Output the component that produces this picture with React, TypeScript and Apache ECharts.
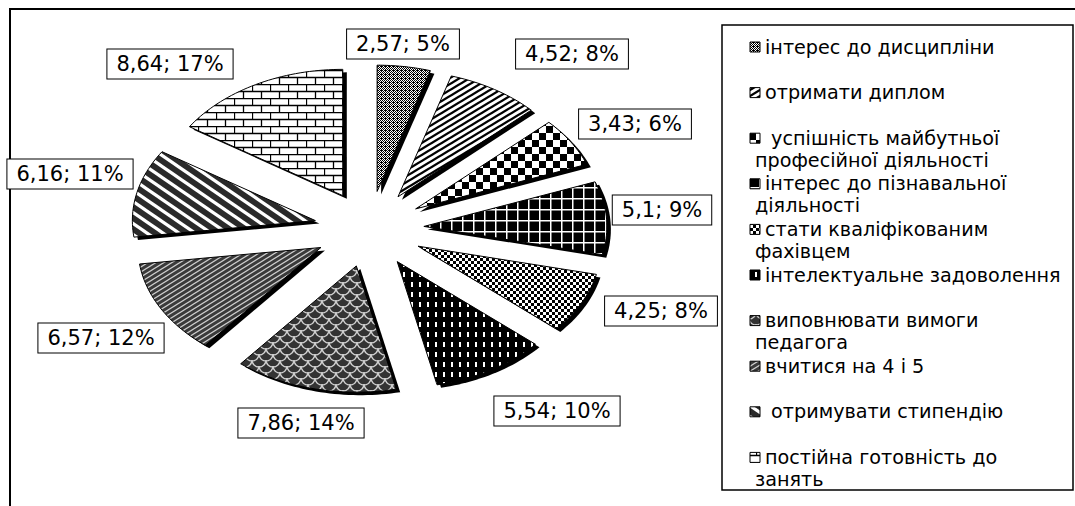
import React, { useEffect, useRef } from 'react';
import * as echarts from 'echarts';

// ---- data ----
const categories = [
  'інтерес до дисципліни',
  'отримати диплом',
  ' успішність майбутньої\nпрофесійної діяльності',
  'інтерес до пізнавальної\nдіяльності',
  'стати кваліфікованим\nфахівцем',
  'інтелектуальне задоволення',
  'виповнювати вимоги\nпедагога',
  'вчитися на 4 і 5',
  ' отримувати стипендію',
  'постійна готовність до\nзанять',
];
const values = [2.57, 4.52, 3.43, 5.1, 4.25, 5.54, 7.86, 6.57, 6.16, 8.64];
const percents = [5, 8, 6, 9, 8, 10, 14, 12, 11, 17];

// ---- layout ----
const CX = 369;
const CY = 229;
const R = 183;
const K = 0.69; // vertical squash of the tilted pie
const D = 55; // explode distance
const SHX = 4;
const SHY = 3;
const LABEL_CENTERS: [number, number][] = [
  [403, 44], [572, 54], [635, 124], [662, 210], [661, 311],
  [557, 411], [301, 423], [101, 338], [70, 174], [170, 64],
];
const LEG = { x: 722, y: 25, w: 351, h: 465, iconX: 750, textX: 765, contX: 755, y0: 47, step: 45.6, lineH: 22 };

function tile(w: number, h: number, draw: (g: CanvasRenderingContext2D) => void) {
  const c = document.createElement('canvas');
  c.width = w;
  c.height = h;
  const g = c.getContext('2d')!;
  draw(g);
  return c;
}

function stripes(W: number, H: number, lw: number, fg: string, bg: string, dir: '/' | '\\') {
  return tile(W, H, (g) => {
    g.fillStyle = bg;
    g.fillRect(0, 0, W, H);
    g.strokeStyle = fg;
    g.lineWidth = lw;
    for (let n = -3; n <= 4; n++) {
      g.beginPath();
      if (dir === '/') {
        g.moveTo(W * (n + 1), -H);
        g.lineTo(W * (n - 2), 2 * H);
      } else {
        g.moveTo(W * (n - 1), -H);
        g.lineTo(W * (n + 2), 2 * H);
      }
      g.stroke();
    }
  });
}

function makePatterns() {
  const p: HTMLCanvasElement[] = [];
  // 1 fine grey stipple
  p.push(tile(4, 4, (g) => {
    g.fillStyle = '#fff';
    g.fillRect(0, 0, 4, 4);
    g.fillStyle = '#000';
    for (let y = 0; y < 4; y++) for (let x = 0; x < 4; x++) if ((x + y) % 2 === 0 || (x === 1 && y === 2)) g.fillRect(x, y, 1, 1);
  }));
  // 2 thin "/" stripes
  p.push(stripes(10, 6, 2.3, '#000', '#fff', '/'));
  // 3 large checker
  p.push(tile(14, 14, (g) => {
    g.fillStyle = '#fff';
    g.fillRect(0, 0, 14, 14);
    g.fillStyle = '#000';
    g.fillRect(0, 0, 7, 7);
    g.fillRect(7, 7, 7, 7);
  }));
  // 4 black with white grid
  p.push(tile(11, 11, (g) => {
    g.fillStyle = '#000';
    g.fillRect(0, 0, 11, 11);
    g.fillStyle = '#fff';
    g.fillRect(0, 0, 11, 1.5);
    g.fillRect(0, 0, 1.5, 11);
  }));
  // 5 small checker
  p.push(tile(6, 6, (g) => {
    g.fillStyle = '#fff';
    g.fillRect(0, 0, 6, 6);
    g.fillStyle = '#000';
    g.fillRect(0, 0, 3, 3);
    g.fillRect(3, 3, 3, 3);
  }));
  // 6 black with white vertical dashes
  p.push(tile(8, 10, (g) => {
    g.fillStyle = '#000';
    g.fillRect(0, 0, 8, 10);
    g.fillStyle = '#fff';
    g.fillRect(3, 2, 2, 5);
  }));
  // 7 dark grey scales
  p.push(tile(14, 12, (g) => {
    g.fillStyle = '#333';
    g.fillRect(0, 0, 14, 12);
    g.strokeStyle = '#cfcfcf';
    g.lineWidth = 1.3;
    const arc = (x: number, y: number) => {
      g.beginPath();
      g.arc(x, y, 7, 0, Math.PI);
      g.stroke();
    };
    arc(7, 0); arc(7, 12); arc(0, 6); arc(14, 6); arc(0, -6); arc(14, -6);
  }));
  // 8 dark grey with light "/" lines
  p.push(stripes(8, 5, 1.2, '#cfcfcf', '#3a3a3a', '/'));
  // 9 wide "\" stripes
  p.push(stripes(16, 11, 3.2, '#fff', '#2a2a2a', '\\'));
  // 10 brick
  p.push(tile(18, 14, (g) => {
    g.fillStyle = '#fff';
    g.fillRect(0, 0, 18, 14);
    g.strokeStyle = '#000';
    g.lineWidth = 1.3;
    g.beginPath();
    g.moveTo(0, 0.5); g.lineTo(18, 0.5);
    g.moveTo(0, 7.5); g.lineTo(18, 7.5);
    g.moveTo(0.5, 0); g.lineTo(0.5, 7.5);
    g.moveTo(9.5, 7.5); g.lineTo(9.5, 14);
    g.stroke();
  }));
  return p.map((c) => ({ image: c, repeat: 'repeat' as const }));
}

const fmt = (v: number) => String(v).replace('.', ',');

export default function App() {
  const ref = useRef<HTMLDivElement>(null);
  useEffect(() => {
    if (!ref.current) return;
    const chart = echarts.init(ref.current, null, { renderer: 'svg' });
    const patterns = makePatterns();
    const total = values.reduce((a, b) => a + b, 0);
    const starts: number[] = [];
    let acc = 0;
    values.forEach((v) => {
      starts.push((acc / total) * 360);
      acc += v;
    });

    const legendEls: any[] = [];
    categories.forEach((name, i) => {
      const y = LEG.y0 + i * LEG.step;
      legendEls.push({
        type: 'rect',
        z: 5,
        shape: { x: LEG.iconX, y: y - 5, width: 10, height: 10 },
        style: { fill: patterns[i], stroke: '#000', lineWidth: 1 },
      });
      name.split('\n').forEach((line, j) => {
        legendEls.push({
          type: 'text',
          z: 5,
          style: {
            text: line,
            x: j === 0 ? LEG.textX : LEG.contX,
            y: y + j * LEG.lineH,
            verticalAlign: 'middle',
            font: '19.2px "DejaVu Sans"',
            fill: '#000',
          },
        });
      });
    });

    chart.setOption({
      animation: false,
      backgroundColor: '#fff',
      graphic: [
        {
          type: 'rect',
          z: 1,
          shape: { x: 10, y: 9, width: 1200, height: 800 },
          style: { fill: 'none', stroke: '#000', lineWidth: 2 },
        },
        {
          type: 'rect',
          z: 1,
          shape: { x: LEG.x, y: LEG.y, width: LEG.w, height: LEG.h },
          style: { fill: 'none', stroke: '#000', lineWidth: 1.5 },
        },
        ...legendEls,
      ],
      series: [
        {
          type: 'custom',
          coordinateSystem: 'none',
          data: values.map((v, i) => ({ name: categories[i], value: [v] })),
          renderItem: (params: any, api: any) => {
            const i = params.dataIndex;
            const v = api.value(0);
            const a0 = starts[i];
            const a1 = a0 + (v / total) * 360;
            const m = (((a0 + a1) / 2) * Math.PI) / 180;
            const ox = CX + D * Math.sin(m);
            const oy = CY - K * D * Math.cos(m);
            const pts: number[][] = [[ox, oy]];
            const steps = Math.max(4, Math.ceil((a1 - a0) / 1.5));
            for (let s = 0; s <= steps; s++) {
              const t = ((a0 + ((a1 - a0) * s) / steps) * Math.PI) / 180;
              pts.push([ox + R * Math.sin(t), oy - K * R * Math.cos(t)]);
            }
            const sh = pts.map(([x, y]) => [x + SHX, y + SHY]);
            return {
              type: 'group',
              children: [
                { type: 'polygon', shape: { points: sh }, style: { fill: '#000' } },
                { type: 'polygon', shape: { points: pts }, style: { fill: patterns[i], stroke: '#000', lineWidth: 1 } },
                {
                  type: 'text',
                  style: {
                    text: `${fmt(v)}; ${percents[i]}%`,
                    x: LABEL_CENTERS[i][0],
                    y: LABEL_CENTERS[i][1],
                    align: 'center',
                    verticalAlign: 'middle',
                    font: '21px "DejaVu Sans"',
                    fill: '#000',
                    backgroundColor: '#fff',
                    borderColor: '#000',
                    borderWidth: 1,
                    padding: [4, 9],
                  },
                },
              ],
            };
          },
        },
      ],
    });
    return () => chart.dispose();
  }, []);
  return <div ref={ref} style={{ position: 'fixed', left: 0, top: 0, width: 1075, height: 506 }} />;
}
